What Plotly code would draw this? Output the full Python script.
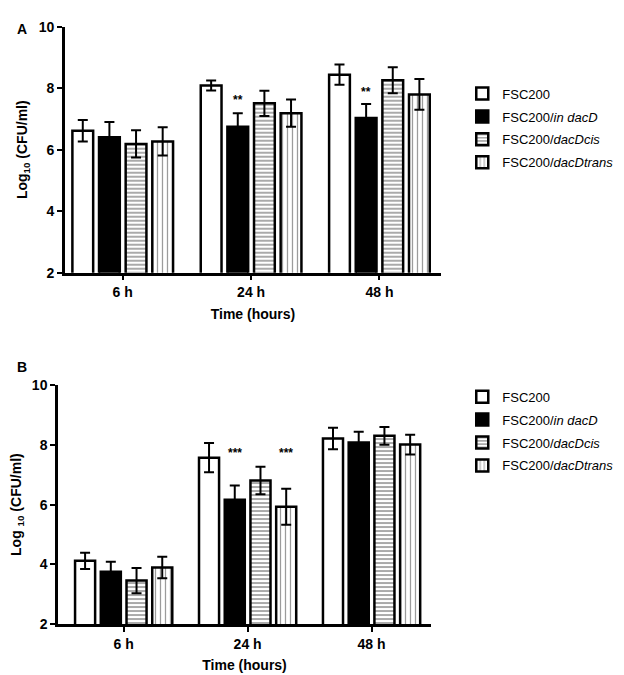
import plotly.graph_objects as go

# categories and series (log10 CFU/ml)
times = ["6 h", "24 h", "48 h"]
strains = [
    "FSC200",
    "FSC200/<i>in dacD</i>",
    "FSC200/<i>dacDcis</i>",
    "FSC200/<i>dacDtrans</i>",
]

# panel A
a_fsc200 = [6.62, 8.09, 8.44]
a_fsc200_err = [0.35, 0.16, 0.33]
a_indacd = [6.41, 6.75, 7.03]
a_indacd_err = [0.49, 0.44, 0.46]
a_cis = [6.19, 7.51, 8.26]
a_cis_err = [0.44, 0.41, 0.42]
a_trans = [6.27, 7.19, 7.80]
a_trans_err = [0.46, 0.44, 0.50]

# panel B
b_fsc200 = [4.12, 7.57, 8.21]
b_fsc200_err = [0.27, 0.49, 0.36]
b_indacd = [3.76, 6.16, 8.08]
b_indacd_err = [0.33, 0.48, 0.36]
b_cis = [3.46, 6.81, 8.30]
b_cis_err = [0.42, 0.46, 0.30]
b_trans = [3.90, 5.93, 8.01]
b_trans_err = [0.36, 0.60, 0.33]

# significance marks: time index, strain index, y value, label
a_sig_time = [1, 2]
a_sig_strain = [1, 1]
a_sig_y = [7.62, 7.88]
a_sig_text = ["**", "**"]
b_sig_time = [1, 1]
b_sig_strain = [1, 3]
b_sig_y = [7.72, 7.72]
b_sig_text = ["***", "***"]

FONT = "Arial, Liberation Sans, sans-serif"
BARGAP = 0.17

STYLE = [
    dict(color="white"),
    dict(color="black"),
    dict(color="white", pattern=dict(shape="-", fgcolor="#555555", bgcolor="white", size=4, solidity=0.5)),
    dict(color="white", pattern=dict(shape="|", fgcolor="#333333", bgcolor="white", size=5, solidity=0.25)),
]

fig = go.Figure()


def add_panel(series, errs, xa, ya, legend):
    for i, (vals, err) in enumerate(zip(series, errs)):
        marker = dict(STYLE[i])
        marker["line"] = dict(color="black", width=2.5)
        fig.add_trace(go.Bar(
            x=times, y=vals, name=strains[i], marker=marker,
            error_y=dict(type="data", array=err, color="black", thickness=2, width=5),
            xaxis=xa, yaxis=ya, legend=legend, legendgroup=f"{legend}_{i}",
        ))


add_panel([a_fsc200, a_indacd, a_cis, a_trans],
          [a_fsc200_err, a_indacd_err, a_cis_err, a_trans_err], "x", "y", "legend")
add_panel([b_fsc200, b_indacd, b_cis, b_trans],
          [b_fsc200_err, b_indacd_err, b_cis_err, b_trans_err], "x2", "y2", "legend2")


def bar_center(t, s):
    gw = 1 - BARGAP
    slot = gw / len(strains)
    return t - gw / 2 + slot * (s + 0.5)


sig_font = dict(family=FONT, size=12, color="black", weight="bold")
annotations = []
for t, s, yv, txt in zip(a_sig_time, a_sig_strain, a_sig_y, a_sig_text):
    annotations.append(dict(x=bar_center(t, s), y=yv, xref="x", yref="y", text=txt,
                            showarrow=False, font=sig_font))
for t, s, yv, txt in zip(b_sig_time, b_sig_strain, b_sig_y, b_sig_text):
    annotations.append(dict(x=bar_center(t, s), y=yv, xref="x2", yref="y2", text=txt,
                            showarrow=False, font=sig_font))

label_font = dict(family=FONT, size=14, color="black", weight="bold")
annotations.append(dict(x=0.012, y=1 - 13 / 675, xref="paper", yref="paper", text="A", showarrow=False,
                        xanchor="left", yanchor="middle", font=label_font))
annotations.append(dict(x=0.012, y=1 - 360 / 675, xref="paper", yref="paper", text="B", showarrow=False,
                        xanchor="left", yanchor="middle", font=label_font))

bold = dict(family=FONT, size=14, color="black", weight="bold")
xcommon = dict(type="category", showline=True, linecolor="black", linewidth=2.5, ticks="outside",
               ticklen=5, tickwidth=2, tickcolor="black", tickfont=bold, showgrid=False, zeroline=False)
ycommon = dict(range=[2, 10], tickvals=[2, 4, 6, 8, 10], showline=True, linecolor="black", linewidth=2.5,
               ticks="outside", ticklen=5, tickwidth=2, tickcolor="black", tickfont=bold,
               showgrid=False, zeroline=False)
legend_font = dict(family=FONT, size=13, color="black")

fig.update_layout(
    width=624, height=675,
    margin=dict(l=0, r=0, t=0, b=0),
    paper_bgcolor="white", plot_bgcolor="white",
    barmode="group", bargap=BARGAP, bargroupgap=0.22,
    xaxis=dict(xcommon, domain=[0.0913, 0.694], anchor="y", range=[-0.45, 2.48],
               title=dict(text="Time (hours)", font=bold, standoff=10)),
    yaxis=dict(ycommon, domain=[0.6104, 0.9837], anchor="x",
               title=dict(text="Log<sub>10</sub> (CFU/ml)", font=bold, standoff=8)),
    xaxis2=dict(xcommon, domain=[0.0801, 0.678], anchor="y2", range=[-0.53, 2.48],
                title=dict(text="Time (hours)", font=bold, standoff=10)),
    yaxis2=dict(ycommon, domain=[0.077, 0.44], anchor="x2",
                title=dict(text="Log <sub>10</sub> (CFU/ml)", font=bold, standoff=10)),
    legend=dict(x=0.728, y=0.905, xanchor="left", yanchor="top", bgcolor="rgba(0,0,0,0)",
                font=legend_font, tracegroupgap=3),
    legend2=dict(x=0.728, y=0.445, xanchor="left", yanchor="top", bgcolor="rgba(0,0,0,0)",
                 font=legend_font, tracegroupgap=3),
    annotations=annotations,
)

fig.write_html("out.html")
